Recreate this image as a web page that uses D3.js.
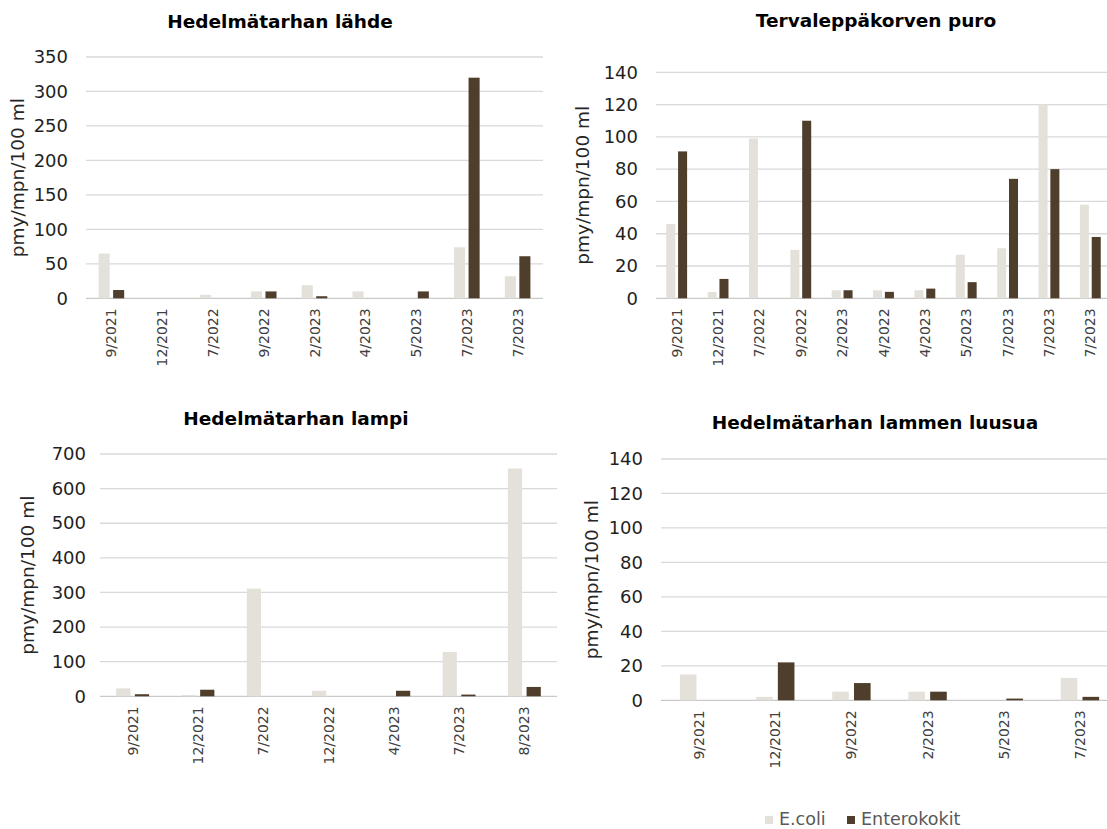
<!DOCTYPE html>
<html>
<head>
<meta charset="utf-8">
<script src="https://cdn.jsdelivr.net/npm/d3@7"></script>
<style>
  html, body { margin: 0; padding: 0; background: #ffffff; }
  svg { display: block; font-family: "DejaVu Sans", Verdana, sans-serif; }
</style>
</head>
<body>
<svg id="chart" width="1107" height="829"></svg>
<script>
// Sampling dates and bacteria counts (pmy/mpn/100 ml) per site
const lahdeDates   = ["9/2021", "12/2021", "7/2022", "9/2022", "2/2023", "4/2023", "5/2023", "7/2023", "7/2023"];
const lahdeEcoli   = [65, 0, 5, 10, 19, 10, 0, 74, 32];
const lahdeEntero  = [12, 0, 0, 10, 3, 0, 10, 320, 61];
const lahdeTicks   = [0, 50, 100, 150, 200, 250, 300, 350];

const puroDates    = ["9/2021", "12/2021", "7/2022", "9/2022", "2/2023", "4/2022", "4/2023", "5/2023", "7/2023", "7/2023", "7/2023"];
const puroEcoli    = [46, 4, 99, 30, 5, 5, 5, 27, 31, 120, 58];
const puroEntero   = [91, 12, 0, 110, 5, 4, 6, 10, 74, 80, 38];
const puroTicks    = [0, 20, 40, 60, 80, 100, 120, 140];

const lampiDates   = ["9/2021", "12/2021", "7/2022", "12/2022", "4/2023", "7/2023", "8/2023"];
const lampiEcoli   = [23, 4, 311, 16, 0, 128, 658];
const lampiEntero  = [6, 19, 0, 0, 16, 5, 27];
const lampiTicks   = [0, 100, 200, 300, 400, 500, 600, 700];

const luusuaDates  = ["9/2021", "12/2021", "9/2022", "2/2023", "5/2023", "7/2023"];
const luusuaEcoli  = [15, 2, 5, 5, 0, 13];
const luusuaEntero = [0, 22, 10, 5, 1, 2];
const luusuaTicks  = [0, 20, 40, 60, 80, 100, 120, 140];

const seriesNames  = ["E.coli", "Enterokokit"];
const yTitle = "pmy/mpn/100 ml";

const colors = { "E.coli": "#e4e1da", "Enterokokit": "#4f3e2c" };

// Panel frames: plot rectangle, title anchor and axis-title x
const panels = [
  { title: "Hedelmätarhan lähde", dates: lahdeDates, ecoli: lahdeEcoli, entero: lahdeEntero, ticks: lahdeTicks,
    frame: { left: 86, right: 543, top: 57, bottom: 298.3, titleX: 280, titleY: 28, yTitleX: 18, tickPad: 18 } },
  { title: "Tervaleppäkorven puro", dates: puroDates, ecoli: puroEcoli, entero: puroEntero, ticks: puroTicks,
    frame: { left: 656, right: 1111, top: 72.3, bottom: 298.3, titleX: 876, titleY: 27, yTitleX: 583, tickPad: 18 } },
  { title: "Hedelmätarhan lampi", dates: lampiDates, ecoli: lampiEcoli, entero: lampiEntero, ticks: lampiTicks,
    frame: { left: 100, right: 557, top: 454, bottom: 696.3, titleX: 296, titleY: 425, yTitleX: 28, tickPad: 14 } },
  { title: "Hedelmätarhan lammen luusua", dates: luusuaDates, ecoli: luusuaEcoli, entero: luusuaEntero, ticks: luusuaTicks,
    frame: { left: 661, right: 1118, top: 459, bottom: 700.3, titleX: 875, titleY: 429, yTitleX: 592, tickPad: 18 } }
];

const svg = d3.select("#chart");

panels.forEach(p => {
  const f = p.frame;
  const g = svg.append("g");
  const idx = p.dates.map((d, i) => i);

  const y = d3.scaleLinear()
    .domain([0, d3.max(p.ticks)])
    .range([f.bottom, f.top]);

  const x0 = d3.scaleBand()
    .domain(idx)
    .range([f.left, f.right])
    .paddingInner(0.496)
    .paddingOuter(0.248);

  const x1 = d3.scaleBand()
    .domain(seriesNames)
    .range([0, x0.bandwidth()])
    .paddingInner(0.238)
    .paddingOuter(0);

  // Horizontal gridlines
  g.append("g")
    .selectAll("line")
    .data(p.ticks)
    .join("line")
    .attr("x1", f.left)
    .attr("x2", f.right)
    .attr("y1", d => y(d))
    .attr("y2", d => y(d))
    .attr("stroke", d => d === 0 ? "#c9c9c9" : "#d9d9d9")
    .attr("stroke-width", 1.3);

  // Bars
  const rows = idx.map(i => ({ i, values: [
    { key: "E.coli", v: p.ecoli[i] },
    { key: "Enterokokit", v: p.entero[i] }
  ] }));

  g.append("g")
    .selectAll("g")
    .data(rows)
    .join("g")
    .attr("transform", d => `translate(${x0(d.i)},0)`)
    .selectAll("rect")
    .data(d => d.values)
    .join("rect")
    .attr("x", d => x1(d.key))
    .attr("width", x1.bandwidth())
    .attr("y", d => y(d.v))
    .attr("height", d => y(0) - y(d.v))
    .attr("fill", d => colors[d.key]);

  // Y axis labels
  const yAxis = d3.axisLeft(y).tickValues(p.ticks).tickSize(0).tickPadding(f.tickPad);
  const ya = g.append("g")
    .attr("transform", `translate(${f.left},0)`)
    .call(yAxis);
  ya.select(".domain").remove();
  ya.selectAll("text")
    .attr("font-size", 18)
    .attr("font-family", "DejaVu Sans, Verdana, sans-serif")
    .attr("fill", "#1f1f1f");

  // X axis labels, rotated
  const xAxis = d3.axisBottom(d3.scaleBand().domain(idx).range([f.left, f.right]))
    .tickSize(0)
    .tickFormat(i => p.dates[i]);
  const xa = g.append("g")
    .attr("transform", `translate(0,${f.bottom})`)
    .call(xAxis);
  xa.select(".domain").remove();
  xa.selectAll("text")
    .attr("font-size", 14)
    .attr("font-family", "DejaVu Sans, Verdana, sans-serif")
    .attr("fill", "#404040")
    .attr("text-anchor", "end")
    .attr("transform", "rotate(-90)")
    .attr("x", -10)
    .attr("y", 0)
    .attr("dy", "0.36em");

  // Title
  g.append("text")
    .attr("x", f.titleX)
    .attr("y", f.titleY)
    .attr("text-anchor", "middle")
    .attr("font-size", 18.5)
    .attr("font-weight", "bold")
    .attr("fill", "#000000")
    .text(p.title);

  // Y axis title
  g.append("text")
    .attr("transform", `translate(${f.yTitleX},${(f.top + f.bottom) / 2}) rotate(-90)`)
    .attr("text-anchor", "middle")
    .attr("dy", "0.35em")
    .attr("font-size", 18.5)
    .attr("fill", "#262626")
    .text(yTitle);
});

// Legend
const legendPos = [ { x: 765, key: "E.coli" }, { x: 847, key: "Enterokokit" } ];
const lg = svg.append("g");
legendPos.forEach(l => {
  lg.append("rect")
    .attr("x", l.x)
    .attr("y", 816)
    .attr("width", 8)
    .attr("height", 8)
    .attr("fill", colors[l.key]);
  lg.append("text")
    .attr("x", l.x + 14)
    .attr("y", 825)
    .attr("font-size", 17.5)
    .attr("fill", "#595959")
    .text(l.key);
});
</script>
</body>
</html>
